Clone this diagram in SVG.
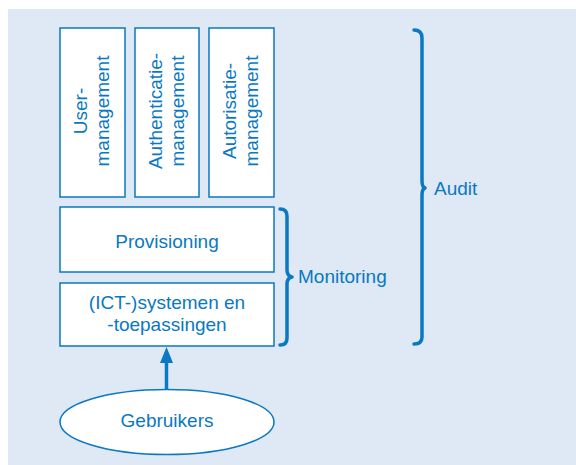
<svg xmlns="http://www.w3.org/2000/svg" width="576" height="465" viewBox="0 0 576 465">
<style>
.box{fill:#ffffff;stroke:#0a78c2;stroke-width:1.5}
.t{font-family:"Liberation Sans",Arial,sans-serif;font-size:19px;fill:#0a78c2;text-anchor:middle}
.lbl{font-family:"Liberation Sans",Arial,sans-serif;font-size:19px;fill:#0a78c2}
.brace{fill:none;stroke:#0a78c2;stroke-width:3.5;stroke-linecap:round;stroke-linejoin:round}
</style>
<rect x="0" y="0" width="576" height="465" fill="#ffffff"/>
<rect x="8" y="9" width="568" height="456" fill="#dfe9f5"/>
<g id="user-management">
<rect class="box" x="60" y="28" width="65" height="169"/>
<text class="t" transform="translate(87,111) rotate(-90)">User-</text>
<text class="t" transform="translate(109,111) rotate(-90)">management</text>
</g>
<g id="authenticatie-management">
<rect class="box" x="135" y="28" width="64" height="169"/>
<text class="t" transform="translate(162,111) rotate(-90)">Authenticatie-</text>
<text class="t" transform="translate(184,111) rotate(-90)">management</text>
</g>
<g id="autorisatie-management">
<rect class="box" x="209" y="28" width="65" height="169"/>
<text class="t" transform="translate(236,111) rotate(-90)">Autorisatie-</text>
<text class="t" transform="translate(258,111) rotate(-90)">management</text>
</g>
<g id="provisioning">
<rect class="box" x="60" y="207" width="214" height="65"/>
<text class="t" x="167" y="248">Provisioning</text>
</g>
<g id="ict-systemen">
<rect class="box" x="60" y="283" width="214" height="63"/>
<text class="t" x="167" y="309">(ICT-)systemen en</text>
<text class="t" x="167" y="331">-toepassingen</text>
</g>
<g id="gebruikers">
<ellipse cx="167" cy="422" rx="107" ry="32.5" fill="#ffffff" stroke="#0a78c2" stroke-width="1.5"/>
<text class="t" x="167" y="427">Gebruikers</text>
</g>
<g id="monitoring">
<path class="brace" d="M280,209 Q287,209 287,216 L287,270 Q287,276 292,277 Q287,278 287,284 L287,338 Q287,345 280,345"/>
<text class="lbl" x="298" y="283">Monitoring</text>
</g>
<g id="audit">
<path class="brace" d="M414,30 Q422,30 422,38 L422,181 Q422,187 425,188 Q422,189 422,195 L422,337 Q422,344 414,344"/>
<text class="lbl" x="434" y="195">Audit</text>
</g>
<g id="connectors">
<line x1="166.5" y1="390" x2="166.5" y2="360" stroke="#0a78c2" stroke-width="3.5"/>
<polygon points="166.5,347 160,363 173,363" fill="#0a78c2"/>
</g>
</svg>
